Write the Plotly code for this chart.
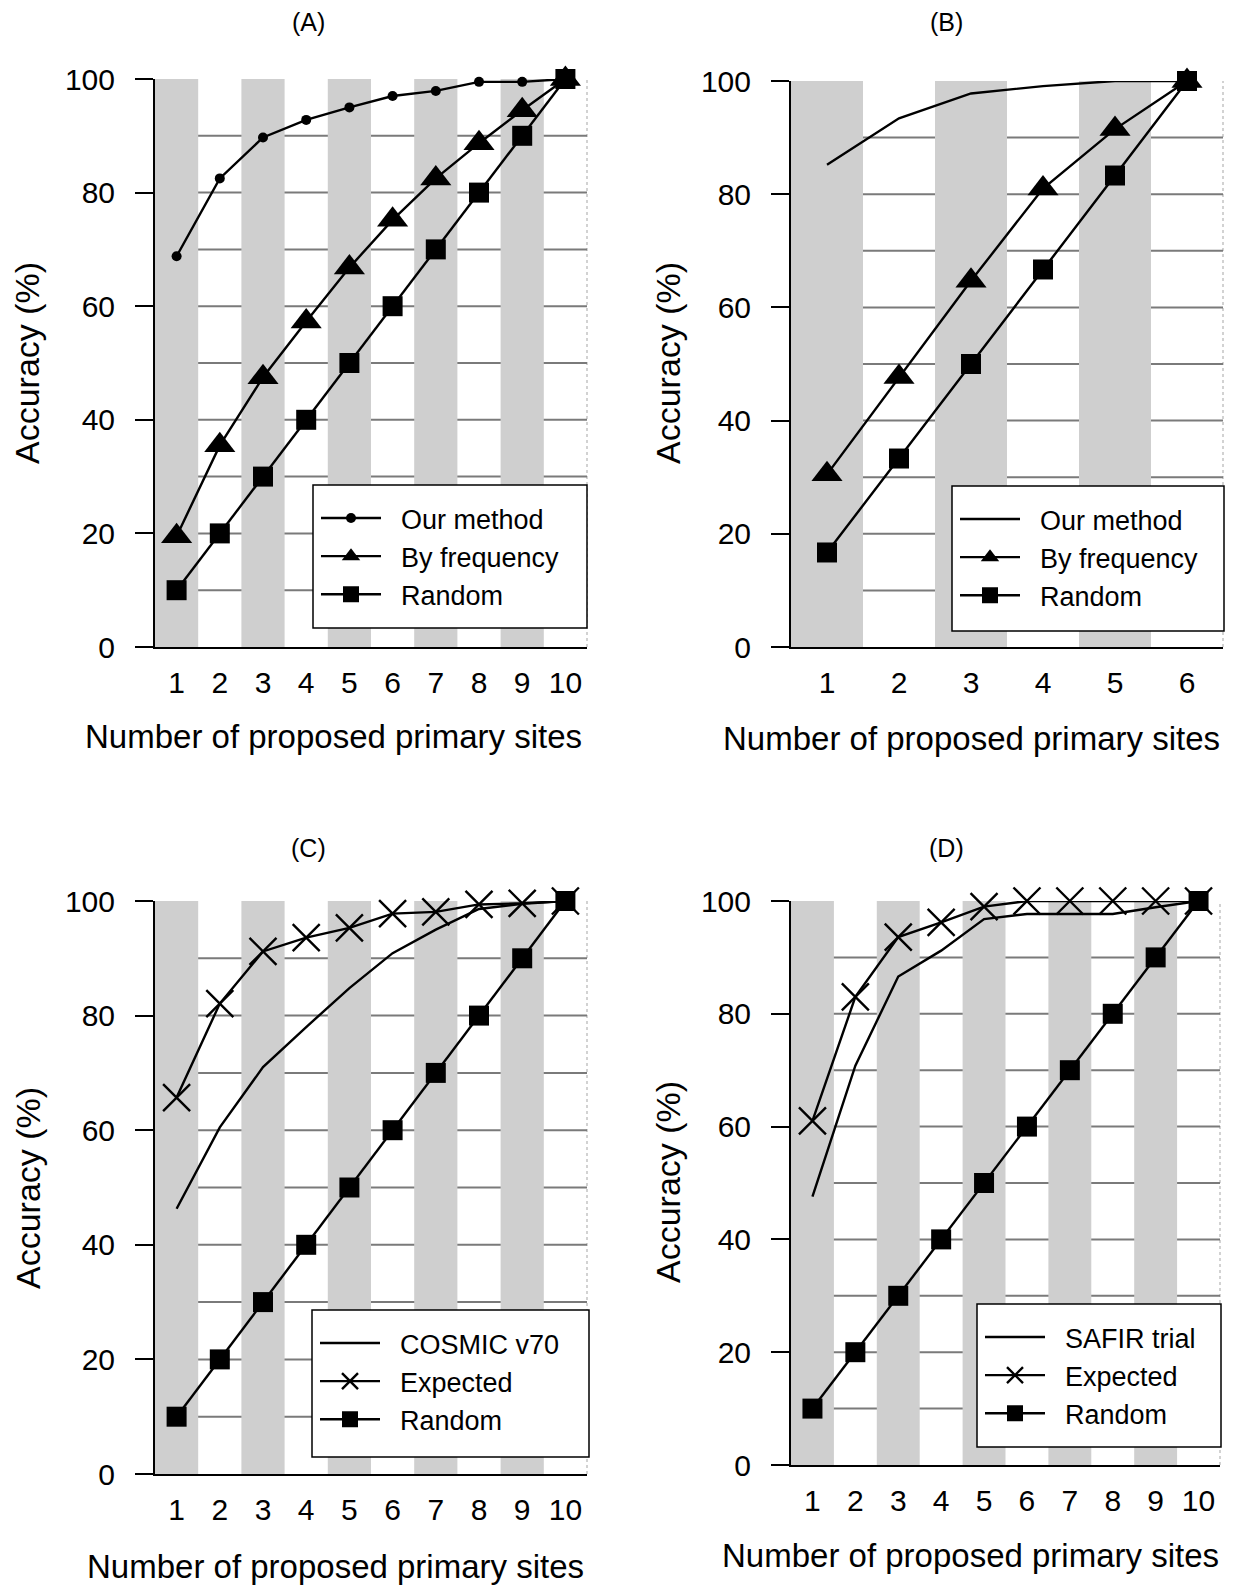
import plotly.graph_objects as go

# ---------------- data ----------------
x10 = [1, 2, 3, 4, 5, 6, 7, 8, 9, 10]
x6 = [1, 2, 3, 4, 5, 6]

a_our_method = [68.8, 82.5, 89.7, 92.8, 95.0, 97.0, 97.9, 99.5, 99.5, 100]
a_by_frequency = [19.5, 35.5, 47.5, 57.3, 66.8, 75.2, 82.5, 88.7, 94.5, 100]
a_random = [10, 20, 30, 40, 50, 60, 70, 80, 90, 100]

b_our_method = [85.2, 93.4, 97.8, 99.1, 100, 100]
b_by_frequency = [30.5, 47.7, 64.7, 81.0, 91.5, 100]
b_random = [16.7, 33.3, 50.0, 66.7, 83.3, 100]

c_cosmic = [46.3, 60.5, 71.0, 78.0, 84.8, 90.9, 95.0, 98.6, 99.5, 100]
c_expected = [65.7, 82.1, 91.2, 93.6, 95.3, 97.8, 98.1, 99.4, 99.6, 100]
c_random = [10, 20, 30, 40, 50, 60, 70, 80, 90, 100]

d_safir = [47.6, 70.8, 86.6, 91.2, 96.8, 97.7, 97.7, 97.7, 98.9, 100]
d_expected = [61.0, 83.0, 93.6, 96.2, 99.0, 100, 100, 100, 100, 100]
d_random = [10, 20, 30, 40, 50, 60, 70, 80, 90, 100]

y_ticks = [0, 20, 40, 60, 80, 100]
grid_values = [10, 20, 30, 40, 50, 60, 70, 80, 90]
panel_titles = ["(A)", "(B)", "(C)", "(D)"]
x_title = "Number of proposed primary sites"
y_title = "Accuracy (%)"

# ---------------- layout geometry ----------------
W, H = 1234, 1586
FONT = "Liberation Sans, Arial, sans-serif"
PAD = "\u00a0\u00a0"  # gap between legend sample and label

def px_x(v):
    return v / W

def px_y(v):
    return 1 - v / H

panels = {
    # name: (x_left, x_right, y_top, y_bottom) in px
    "1": (155, 587, 79, 647),
    "2": (791, 1223, 81, 647),
    "3": (155, 587, 901, 1474),
    "4": (791, 1220, 901, 1465),
}
n_cats = {"1": 10, "2": 6, "3": 10, "4": 10}

fig = go.Figure()

LW = 2.4
def add(xs, ys, name, ax, legend, symbol=None, size=None):
    marker = dict(color="black")
    if symbol:
        marker.update(symbol=symbol, size=size)
        if symbol == "x-thin":
            marker["line"] = dict(color="black", width=2.4)
    suffix = "" if ax == "1" else ax
    fig.add_trace(go.Scatter(
        x=xs, y=ys, name=PAD + name, mode="lines+markers" if symbol else "lines",
        line=dict(color="black", width=LW), marker=marker,
        xaxis="x" + suffix, yaxis="y" + suffix,
        legend=legend, cliponaxis=False, showlegend=True,
    ))

add(x10, a_our_method, "Our method", "1", "legend", "circle", 10)
add(x10, a_by_frequency, "By frequency", "1", "legend", "triangle-up", 27)
add(x10, a_random, "Random", "1", "legend", "square", 20)

add(x6, b_our_method, "Our method", "2", "legend2")
add(x6, b_by_frequency, "By frequency", "2", "legend2", "triangle-up", 27)
add(x6, b_random, "Random", "2", "legend2", "square", 20)

add(x10, c_cosmic, "COSMIC v70", "3", "legend3")
add(x10, c_expected, "Expected", "3", "legend3", "x-thin", 27)
add(x10, c_random, "Random", "3", "legend3", "square", 20)

add(x10, d_safir, "SAFIR trial", "4", "legend4")
add(x10, d_expected, "Expected", "4", "legend4", "x-thin", 27)
add(x10, d_random, "Random", "4", "legend4", "square", 20)

shapes = []
annotations = []
layout = dict(
    width=W, height=H, margin=dict(l=0, r=0, t=0, b=0, autoexpand=False),
    paper_bgcolor="white", plot_bgcolor="white", template="none",
    font=dict(family=FONT, color="black"),
)

legend_boxes = {
    "1": (313, 587, 485, 628),
    "2": (952, 1224, 486, 631),
    "3": (312, 589, 1310, 1457),
    "4": (977, 1221, 1304, 1447),
}
legend_names = {"1": "legend", "2": "legend2", "3": "legend3", "4": "legend4"}

title_pos = {"1": (308, 22), "2": (946, 22), "3": (308, 848), "4": (946, 848)}
ytitle_pos = {"1": (27, 363), "2": (668, 363), "3": (28, 1188), "4": (668, 1182)}
xtitle_pos = {"1": (333, 736), "2": (971, 738), "3": (335, 1566), "4": (970, 1555)}

for i, key in enumerate(["1", "2", "3", "4"]):
    xl, xr, yt, yb = panels[key]
    n = n_cats[key]
    suffix = "" if key == "1" else key
    xa, ya = "xaxis" + suffix, "yaxis" + suffix
    xref, yref = "x" + suffix, "y" + suffix
    layout[xa] = dict(
        domain=[px_x(xl), px_x(xr)], anchor=yref, range=[0.5, n + 0.5],
        tickvals=list(range(1, n + 1)), showgrid=False, zeroline=False,
        showline=True, linecolor="black", linewidth=2, ticks="",
        ticklabelstandoff=8, tickfont=dict(size=30, family=FONT),
        fixedrange=True, automargin=False,
    )
    layout[ya] = dict(
        domain=[px_y(yb), px_y(yt)], anchor=xref, range=[0, 100],
        tickvals=y_ticks, showgrid=False, zeroline=False,
        showline=True, linecolor="black", linewidth=2,
        ticks="outside", ticklen=18, tickwidth=2, tickcolor="black",
        ticklabelstandoff=14, tickfont=dict(size=30, family=FONT),
        fixedrange=True, automargin=False,
    )
    # alternating shaded stripes
    for c in range(1, n + 1, 2):
        shapes.append(dict(type="rect", xref=xref, yref=yref, x0=c - 0.5, x1=c + 0.5,
                           y0=0, y1=100, fillcolor="#cfcfcf", line=dict(width=0), layer="below"))
    # faint right border
    shapes.append(dict(type="line", xref=xref + " domain", yref=yref, x0=1, x1=1,
                       y0=0, y1=100, line=dict(color="#c4c4c4", width=1.5, dash="dot"), layer="below"))
    # horizontal grid lines
    for g in grid_values:
        shapes.append(dict(type="line", xref=xref + " domain", yref=yref, x0=0, x1=1,
                           y0=g, y1=g, line=dict(color="#7a7a7a", width=2), layer="below"))
    # legend box
    bl, br, bt, bb = legend_boxes[key]
    shapes.append(dict(type="rect", xref="paper", yref="paper",
                       x0=px_x(bl), x1=px_x(br), y0=px_y(bb), y1=px_y(bt),
                       fillcolor="white", line=dict(color="black", width=1.5), layer="above"))
    layout[legend_names[key]] = dict(
        x=px_x(bl + 3), y=px_y(bt + 9), xanchor="left", yanchor="top",
        bgcolor="rgba(0,0,0,0)", borderwidth=0, font=dict(size=27, family=FONT),
        itemwidth=60, tracegroupgap=0,
    )
    tx, ty = title_pos[key]
    annotations.append(dict(text=panel_titles[i], x=px_x(tx), y=px_y(ty), xref="paper", yref="paper",
                            showarrow=False, font=dict(size=25, family=FONT),
                            xanchor="center", yanchor="middle"))
    tx, ty = ytitle_pos[key]
    annotations.append(dict(text=y_title, x=px_x(tx), y=px_y(ty), xref="paper", yref="paper",
                            showarrow=False, font=dict(size=34, family=FONT), textangle=-90,
                            xanchor="center", yanchor="middle"))
    tx, ty = xtitle_pos[key]
    annotations.append(dict(text=x_title, x=px_x(tx), y=px_y(ty), xref="paper", yref="paper",
                            showarrow=False, font=dict(size=33, family=FONT),
                            xanchor="center", yanchor="middle"))

layout["shapes"] = shapes
layout["annotations"] = annotations
fig.update_layout(**layout)
fig.write_html("out.html")
